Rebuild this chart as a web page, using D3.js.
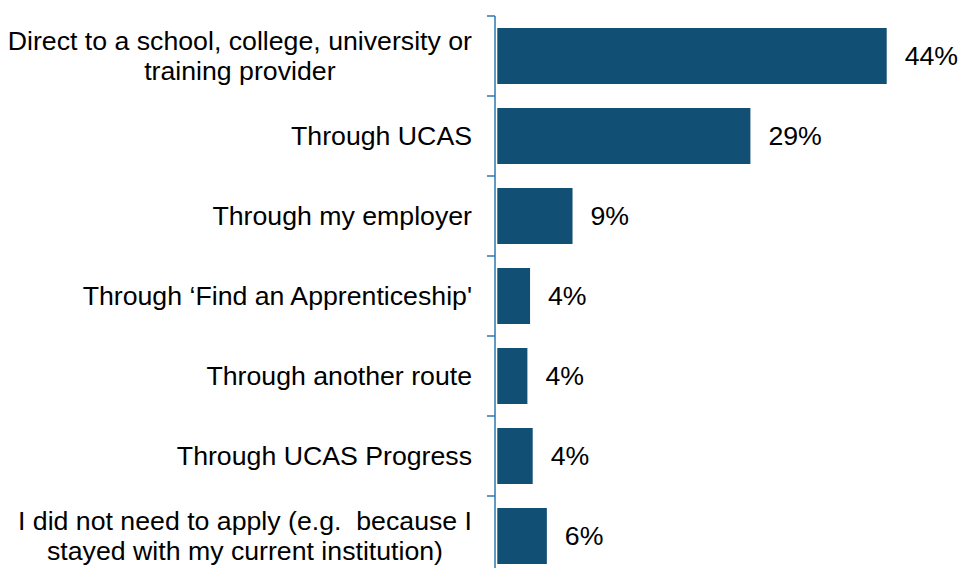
<!DOCTYPE html>
<html><head><meta charset="utf-8">
<script src="https://cdn.jsdelivr.net/npm/d3@7"></script>
<style>html,body{margin:0;padding:0;background:#fff;}svg{display:block;}text{white-space:pre;}</style>
</head><body>
<svg id="c" width="958" height="568"></svg>
<script>
const categories = [
  ["Direct to a school, college, university or", "training provider"],
  ["Through UCAS"],
  ["Through my employer"],
  ["Through \u2018Find an Apprenticeship'"],
  ["Through another route"],
  ["Through UCAS Progress"],
  ["I did not need to apply (e.g.  because I", "stayed with my current institution)"]
];
const values = [44.0, 28.6, 8.5, 3.7, 3.4, 4.0, 5.6];
const valueLabels = ["44%", "29%", "9%", "4%", "4%", "4%", "6%"];

const svg = d3.select("#c");
const font = "'Liberation Sans', Arial, sans-serif";
const fs = 26.7;
const ids = d3.range(categories.length);
const y = d3.scaleBand().domain(ids).range([16, 576]).paddingInner(0.3).paddingOuter(0.15);
const x = d3.scaleLinear().domain([0, 44]).range([497.3, 886.7]);
const axisX = 495;
const axisColor = "#2A77B0";
const labelRight = 472;

svg.selectAll("rect.bar").data(ids).enter().append("rect")
  .attr("class","bar")
  .attr("x", x(0)).attr("y", i => y(i))
  .attr("width", i => x(values[i]) - x(0))
  .attr("height", y.bandwidth())
  .attr("fill", "#124F74");

// axis line and boundary ticks
const step = y.step();
const bounds = d3.range(categories.length + 1).map(k => y.range()[0] + k * step);
svg.append("line").attr("x1", axisX).attr("x2", axisX)
  .attr("y1", bounds[0]).attr("y2", bounds[bounds.length-1])
  .attr("stroke", axisColor).attr("stroke-width", 1.5);
svg.selectAll("line.tk").data(bounds).enter().append("line")
  .attr("class","tk").attr("x1", axisX - 8).attr("x2", axisX)
  .attr("y1", d => d).attr("y2", d => d)
  .attr("stroke", axisColor).attr("stroke-width", 1.5);

// category labels: block right-aligned, lines centred within block
const lh = 30;
ids.forEach(i => {
  const lines = categories[i];
  const cy = y(i) + y.bandwidth()/2;
  const t = svg.append("text").attr("text-anchor","middle")
    .attr("font-family", font).attr("font-size", fs).attr("fill","#000");
  const spans = lines.map((ln, j) => t.append("tspan")
      .attr("y", cy + (j - (lines.length-1)/2) * lh)
      .attr("dy", "0.35em").text(ln));
  const maxW = d3.max(spans, s => s.node().getComputedTextLength());
  spans.forEach(s => s.attr("x", labelRight - maxW/2));
});

// value labels
svg.selectAll("text.val").data(ids).enter().append("text")
  .attr("class","val")
  .attr("x", i => x(values[i]) + 18)
  .attr("y", i => y(i) + y.bandwidth()/2)
  .attr("dy","0.35em")
  .attr("font-family", font).attr("font-size", fs).attr("fill","#000")
  .text(i => valueLabels[i]);
</script>
</body></html>
